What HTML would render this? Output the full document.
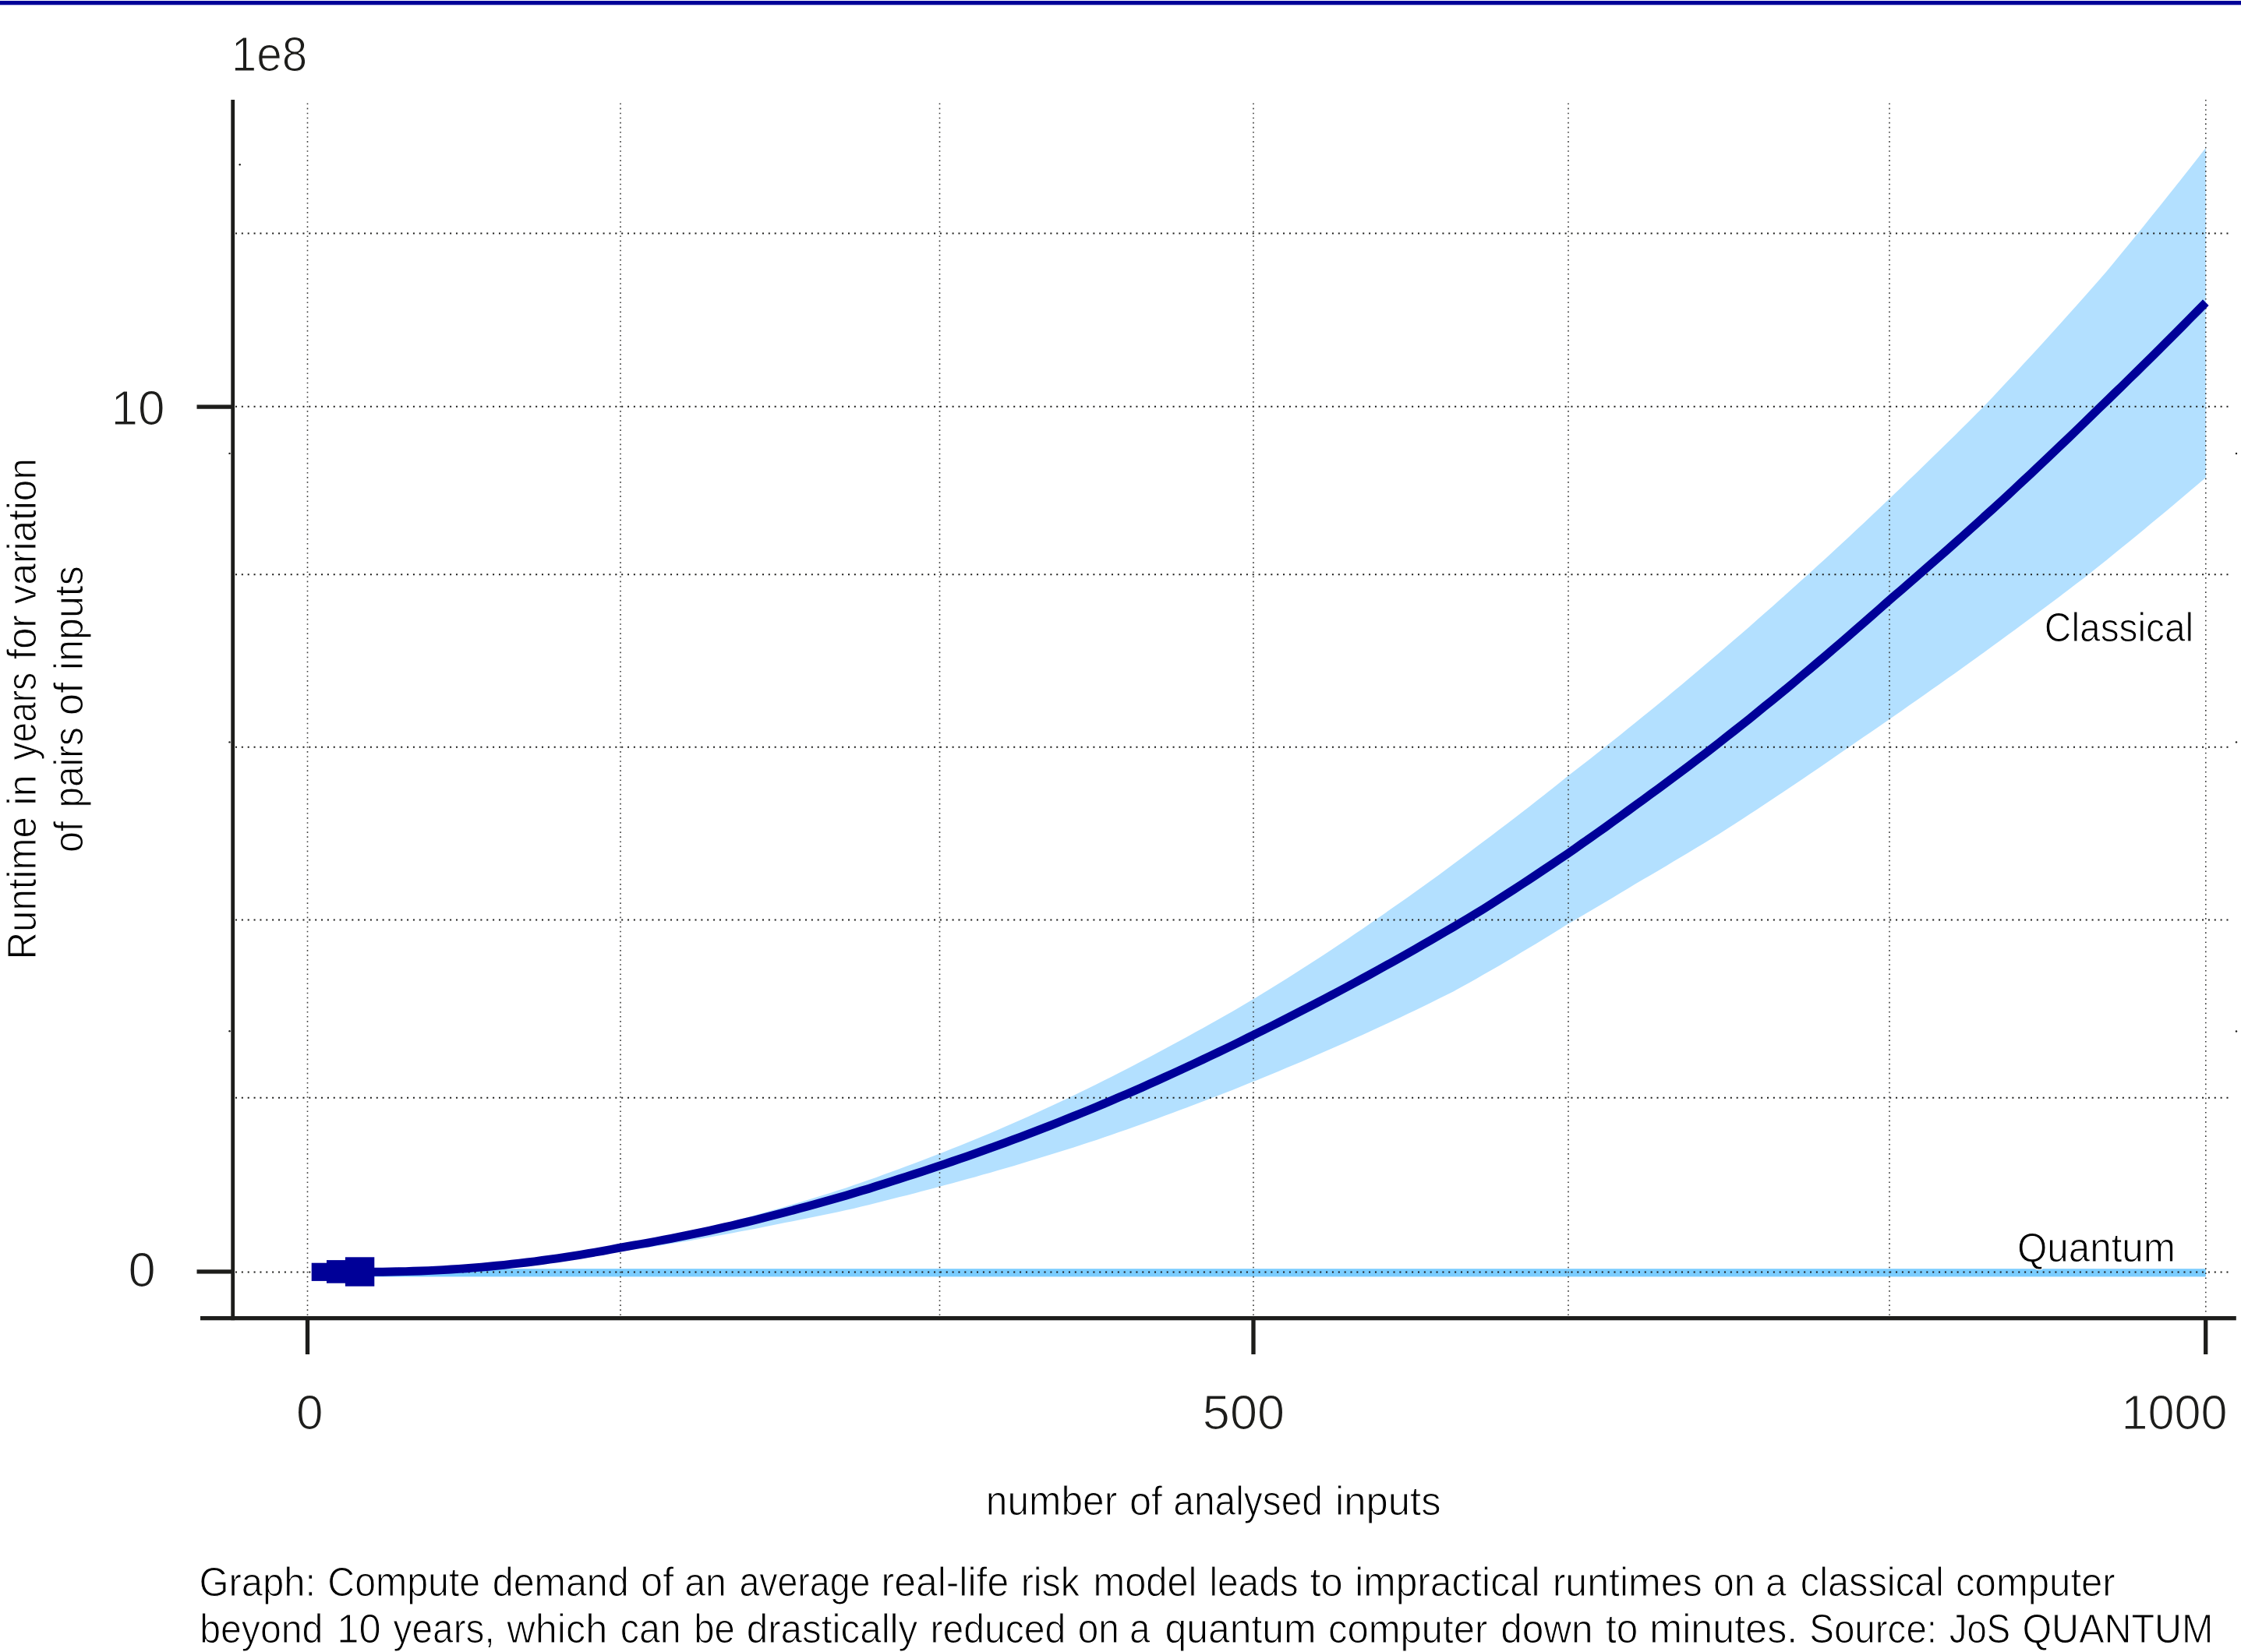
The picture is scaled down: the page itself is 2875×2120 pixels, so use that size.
<!DOCTYPE html>
<html><head><meta charset="utf-8"><title>chart</title>
<style>html,body{margin:0;padding:0;background:#fff;overflow:hidden}svg{display:block}text{font-family:"Liberation Sans",sans-serif}</style>
</head><body>
<svg width="2875" height="2120" viewBox="0 0 2875 2120">
<rect width="2875" height="2120" fill="#fff"/>
<rect x="0" y="1" width="2875" height="5.3" fill="#000098"/>
<path d="M461.7 1632.4 L471.5 1632.4 L481.2 1632.3 L490.9 1632.2 L500.7 1632.0 L510.4 1631.8 L520.2 1631.5 L529.9 1631.2 L539.6 1630.8 L549.4 1630.4 L559.1 1630.0 L568.9 1629.4 L578.6 1628.7 L588.3 1628.0 L598.1 1627.3 L607.8 1626.5 L617.6 1625.6 L627.3 1624.6 L637.1 1623.6 L646.8 1622.5 L656.5 1621.4 L666.3 1620.2 L676.0 1619.0 L685.8 1617.6 L695.5 1616.3 L705.2 1614.8 L715.0 1613.3 L724.7 1611.8 L734.5 1610.1 L744.2 1608.4 L754.0 1606.7 L763.7 1604.9 L773.4 1603.0 L783.2 1601.1 L792.9 1599.1 L802.7 1597.2 L812.4 1595.4 L822.1 1593.5 L831.9 1591.6 L841.6 1589.7 L851.4 1587.7 L861.1 1585.6 L870.8 1583.6 L880.6 1581.4 L890.3 1579.3 L900.1 1577.0 L909.8 1574.7 L919.6 1572.3 L929.3 1569.9 L939.0 1567.4 L948.8 1564.8 L958.5 1562.2 L968.3 1559.6 L978.0 1556.8 L987.7 1554.0 L997.5 1551.2 L1007.2 1548.4 L1017.0 1545.6 L1026.7 1542.7 L1036.4 1539.8 L1046.2 1536.8 L1055.9 1533.8 L1065.7 1530.7 L1075.4 1527.6 L1085.2 1524.4 L1094.9 1521.1 L1104.6 1517.7 L1114.4 1514.3 L1124.1 1510.9 L1133.9 1507.3 L1143.6 1503.8 L1153.3 1500.2 L1163.1 1496.6 L1172.8 1493.0 L1182.6 1489.3 L1192.3 1485.6 L1202.0 1481.8 L1211.8 1478.0 L1221.5 1474.1 L1231.3 1470.2 L1241.0 1466.3 L1250.8 1462.3 L1260.5 1458.2 L1270.2 1454.2 L1280.0 1450.0 L1289.7 1445.8 L1299.5 1441.6 L1309.2 1437.3 L1318.9 1432.9 L1328.7 1428.5 L1338.4 1424.1 L1348.2 1419.6 L1357.9 1415.0 L1367.6 1410.4 L1377.4 1405.7 L1387.1 1401.0 L1396.9 1396.2 L1406.6 1391.4 L1416.4 1386.6 L1426.1 1381.7 L1435.8 1376.8 L1445.6 1371.8 L1455.3 1366.7 L1465.1 1361.6 L1474.8 1356.5 L1484.5 1351.3 L1494.3 1346.0 L1504.0 1340.7 L1513.8 1335.5 L1523.5 1330.2 L1533.2 1324.8 L1543.0 1319.4 L1552.7 1314.0 L1562.5 1308.5 L1572.2 1303.0 L1582.0 1297.4 L1591.7 1291.7 L1601.4 1286.0 L1611.2 1280.2 L1620.9 1274.3 L1630.7 1268.3 L1640.4 1262.3 L1650.1 1256.2 L1659.9 1250.0 L1669.6 1243.8 L1679.4 1237.6 L1689.1 1231.2 L1698.8 1224.9 L1708.6 1218.4 L1718.3 1212.0 L1728.1 1205.4 L1737.8 1198.8 L1747.6 1192.2 L1757.3 1185.5 L1767.0 1178.7 L1776.8 1171.9 L1786.5 1165.1 L1796.3 1158.3 L1806.0 1151.4 L1815.7 1144.5 L1825.5 1137.5 L1835.2 1130.5 L1845.0 1123.4 L1854.7 1116.2 L1864.4 1109.0 L1874.2 1101.8 L1883.9 1094.5 L1893.7 1087.1 L1903.4 1079.8 L1913.2 1072.5 L1922.9 1065.1 L1932.6 1057.7 L1942.4 1050.2 L1952.1 1042.7 L1961.9 1035.2 L1971.6 1027.6 L1981.3 1019.9 L1991.1 1012.2 L2000.8 1004.4 L2010.6 996.6 L2020.3 989.1 L2030.0 981.5 L2039.8 973.9 L2049.5 966.2 L2059.3 958.5 L2069.0 950.8 L2078.8 943.0 L2088.5 935.1 L2098.2 927.3 L2108.0 919.3 L2117.7 911.4 L2127.5 903.4 L2137.2 895.4 L2146.9 887.3 L2156.7 879.2 L2166.4 871.0 L2176.2 862.8 L2185.9 854.5 L2195.6 846.2 L2205.4 837.9 L2215.1 829.5 L2224.9 821.1 L2234.6 812.7 L2244.4 804.2 L2254.1 795.6 L2263.8 787.0 L2273.6 778.4 L2283.3 769.8 L2293.1 761.0 L2302.8 752.3 L2312.5 743.5 L2322.3 734.7 L2332.0 725.8 L2341.8 716.9 L2351.5 707.9 L2361.2 698.9 L2371.0 689.9 L2380.7 680.8 L2390.5 671.7 L2400.2 662.5 L2410.0 653.3 L2419.7 644.1 L2429.4 634.8 L2439.2 625.5 L2448.9 616.1 L2458.7 606.7 L2468.4 597.3 L2478.1 587.8 L2487.9 578.3 L2497.6 568.7 L2507.4 559.2 L2517.1 549.5 L2526.8 539.9 L2536.6 530.1 L2546.3 520.3 L2556.1 510.0 L2565.8 499.6 L2575.6 489.1 L2585.3 478.7 L2595.0 468.1 L2604.8 457.5 L2614.5 446.9 L2624.3 436.2 L2634.0 425.5 L2643.7 414.7 L2653.5 403.8 L2663.2 392.9 L2673.0 382.0 L2682.7 371.0 L2692.4 360.0 L2702.2 348.8 L2711.9 337.0 L2721.7 325.1 L2731.4 313.2 L2741.2 301.2 L2750.9 289.2 L2760.6 277.1 L2770.4 265.0 L2780.1 252.8 L2789.9 240.6 L2799.6 228.3 L2809.3 215.9 L2819.1 203.5 L2828.8 191.0 L2829.8 189.7 L2829.8 612.9 L2828.8 613.7 L2819.1 622.0 L2809.3 630.3 L2799.6 638.5 L2789.9 646.7 L2780.1 654.9 L2770.4 663.0 L2760.6 671.1 L2750.9 679.2 L2741.2 687.2 L2731.4 695.2 L2721.7 703.1 L2711.9 711.1 L2702.2 718.9 L2692.4 726.8 L2682.7 734.6 L2673.0 742.2 L2663.2 749.6 L2653.5 757.0 L2643.7 764.4 L2634.0 771.7 L2624.3 779.0 L2614.5 786.3 L2604.8 793.5 L2595.0 800.8 L2585.3 807.9 L2575.6 815.1 L2565.8 822.2 L2556.1 829.3 L2546.3 836.4 L2536.6 843.4 L2526.8 850.4 L2517.1 857.4 L2507.4 864.4 L2497.6 871.3 L2487.9 878.2 L2478.1 885.0 L2468.4 891.9 L2458.7 898.7 L2448.9 905.6 L2439.2 912.4 L2429.4 919.2 L2419.7 926.0 L2410.0 932.7 L2400.2 939.4 L2390.5 946.1 L2380.7 952.8 L2371.0 959.4 L2361.2 966.2 L2351.5 973.0 L2341.8 979.7 L2332.0 986.4 L2322.3 993.1 L2312.5 999.7 L2302.8 1006.3 L2293.1 1012.8 L2283.3 1019.3 L2273.6 1025.8 L2263.8 1032.3 L2254.1 1038.7 L2244.4 1045.0 L2234.6 1051.4 L2224.9 1057.7 L2215.1 1063.9 L2205.4 1070.2 L2195.6 1076.3 L2185.9 1082.2 L2176.2 1088.1 L2166.4 1094.0 L2156.7 1099.8 L2146.9 1105.6 L2137.2 1111.4 L2127.5 1117.2 L2117.7 1122.9 L2108.0 1128.6 L2098.2 1134.2 L2088.5 1140.2 L2078.8 1146.1 L2069.0 1151.9 L2059.3 1157.8 L2049.5 1163.5 L2039.8 1169.3 L2030.0 1175.0 L2020.3 1180.7 L2010.6 1186.3 L2000.8 1192.4 L1991.1 1198.5 L1981.3 1204.5 L1971.6 1210.4 L1961.9 1216.3 L1952.1 1222.1 L1942.4 1227.9 L1932.6 1233.7 L1922.9 1239.4 L1913.2 1245.0 L1903.4 1250.6 L1893.7 1256.2 L1883.9 1261.7 L1874.2 1267.1 L1864.4 1272.4 L1854.7 1277.2 L1845.0 1282.1 L1835.2 1286.9 L1825.5 1291.7 L1815.7 1296.4 L1806.0 1301.1 L1796.3 1305.8 L1786.5 1310.3 L1776.8 1314.8 L1767.0 1319.3 L1757.3 1323.8 L1747.6 1328.2 L1737.8 1332.6 L1728.1 1336.9 L1718.3 1341.3 L1708.6 1345.6 L1698.8 1349.8 L1689.1 1354.0 L1679.4 1358.2 L1669.6 1362.4 L1659.9 1366.5 L1650.1 1370.6 L1640.4 1374.7 L1630.7 1378.7 L1620.9 1382.7 L1611.2 1386.7 L1601.4 1390.6 L1591.7 1394.5 L1582.0 1398.4 L1572.2 1402.2 L1562.5 1406.1 L1552.7 1409.8 L1543.0 1413.6 L1533.2 1417.3 L1523.5 1421.0 L1513.8 1424.6 L1504.0 1428.2 L1494.3 1431.8 L1484.5 1435.4 L1474.8 1439.0 L1465.1 1442.5 L1455.3 1446.0 L1445.6 1449.4 L1435.8 1452.8 L1426.1 1456.2 L1416.4 1459.6 L1406.6 1462.9 L1396.9 1466.1 L1387.1 1469.3 L1377.4 1472.4 L1367.6 1475.5 L1357.9 1478.6 L1348.2 1481.6 L1338.4 1484.6 L1328.7 1487.6 L1318.9 1490.5 L1309.2 1493.5 L1299.5 1496.4 L1289.7 1499.2 L1280.0 1502.0 L1270.2 1504.9 L1260.5 1507.6 L1250.8 1510.4 L1241.0 1513.1 L1231.3 1515.8 L1221.5 1518.4 L1211.8 1521.1 L1202.0 1523.7 L1192.3 1526.3 L1182.6 1528.8 L1172.8 1531.4 L1163.1 1533.9 L1153.3 1536.3 L1143.6 1538.8 L1133.9 1541.3 L1124.1 1543.8 L1114.4 1546.2 L1104.6 1548.6 L1094.9 1550.9 L1085.2 1553.1 L1075.4 1555.2 L1065.7 1557.3 L1055.9 1559.3 L1046.2 1561.3 L1036.4 1563.3 L1026.7 1565.2 L1017.0 1567.2 L1007.2 1569.1 L997.5 1571.0 L987.7 1573.0 L978.0 1575.0 L968.3 1576.9 L958.5 1578.8 L948.8 1580.6 L939.0 1582.5 L929.3 1584.3 L919.6 1586.0 L909.8 1587.8 L900.1 1589.5 L890.3 1591.2 L880.6 1592.9 L870.8 1594.5 L861.1 1596.1 L851.4 1597.7 L841.6 1599.3 L831.9 1600.8 L822.1 1602.2 L812.4 1603.6 L802.7 1605.0 L792.9 1606.5 L783.2 1608.1 L773.4 1609.5 L763.7 1611.0 L754.0 1612.4 L744.2 1613.8 L734.5 1615.1 L724.7 1616.3 L715.0 1617.5 L705.2 1618.7 L695.5 1619.8 L685.8 1620.9 L676.0 1621.9 L666.3 1622.9 L656.5 1623.8 L646.8 1624.7 L637.1 1625.5 L627.3 1626.3 L617.6 1627.1 L607.8 1627.8 L598.1 1628.4 L588.3 1629.0 L578.6 1629.5 L568.9 1630.0 L559.1 1630.5 L549.4 1630.9 L539.6 1631.2 L529.9 1631.5 L520.2 1631.7 L510.4 1631.9 L500.7 1632.1 L490.9 1632.2 L481.2 1632.3 L471.5 1632.4 L461.7 1632.4Z" fill="#b3e0ff"/>
<rect x="405" y="1628.2" width="2424.8" height="10.2" fill="#7bcdff"/>
<line x1="302" y1="299.5" x2="2862" y2="299.5" stroke="#1d1d1b" stroke-width="2" stroke-dasharray="2 5.86"/>
<line x1="302" y1="521.8" x2="2862" y2="521.8" stroke="#1d1d1b" stroke-width="2" stroke-dasharray="2 5.86"/>
<line x1="302" y1="737.2" x2="2862" y2="737.2" stroke="#1d1d1b" stroke-width="2" stroke-dasharray="2 5.86"/>
<line x1="302" y1="958.7" x2="2862" y2="958.7" stroke="#1d1d1b" stroke-width="2" stroke-dasharray="2 5.86"/>
<line x1="302" y1="1180.4" x2="2862" y2="1180.4" stroke="#1d1d1b" stroke-width="2" stroke-dasharray="2 5.86"/>
<line x1="302" y1="1408.8" x2="2862" y2="1408.8" stroke="#1d1d1b" stroke-width="2" stroke-dasharray="2 5.86"/>
<line x1="302" y1="1632.4" x2="2862" y2="1632.4" stroke="#1d1d1b" stroke-width="2" stroke-dasharray="2 5.86"/>
<line x1="394.5" y1="132.5" x2="394.5" y2="1688" stroke="#3a3a39" stroke-width="1.6" stroke-dasharray="1.6 4.47"/>
<line x1="796.0" y1="132.5" x2="796.0" y2="1688" stroke="#3a3a39" stroke-width="1.6" stroke-dasharray="1.6 4.47"/>
<line x1="1205.5" y1="132.5" x2="1205.5" y2="1688" stroke="#3a3a39" stroke-width="1.6" stroke-dasharray="1.6 4.47"/>
<line x1="1608.0" y1="132.5" x2="1608.0" y2="1688" stroke="#3a3a39" stroke-width="1.6" stroke-dasharray="1.6 4.47"/>
<line x1="2012.0" y1="132.5" x2="2012.0" y2="1688" stroke="#3a3a39" stroke-width="1.6" stroke-dasharray="1.6 4.47"/>
<line x1="2424.0" y1="132.5" x2="2424.0" y2="1688" stroke="#3a3a39" stroke-width="1.6" stroke-dasharray="1.6 4.47"/>
<line x1="2829.8" y1="128" x2="2829.8" y2="1688" stroke="#3a3a39" stroke-width="1.6" stroke-dasharray="1.6 4.47"/>
<path d="M461.7 1632.4 L471.5 1632.4 L481.2 1632.3 L490.9 1632.2 L500.7 1632.0 L510.4 1631.8 L520.2 1631.6 L529.9 1631.3 L539.6 1631.0 L549.4 1630.6 L559.1 1630.1 L568.9 1629.6 L578.6 1629.0 L588.3 1628.4 L598.1 1627.7 L607.8 1626.9 L617.6 1626.1 L627.3 1625.2 L637.1 1624.3 L646.8 1623.3 L656.5 1622.2 L666.3 1621.1 L676.0 1620.0 L685.8 1618.8 L695.5 1617.5 L705.2 1616.2 L715.0 1614.8 L724.7 1613.3 L734.5 1611.8 L744.2 1610.3 L754.0 1608.7 L763.7 1607.0 L773.4 1605.3 L783.2 1603.5 L792.9 1601.7 L802.7 1599.9 L812.4 1598.2 L822.1 1596.5 L831.9 1594.8 L841.6 1593.0 L851.4 1591.2 L861.1 1589.3 L870.8 1587.4 L880.6 1585.4 L890.3 1583.4 L900.1 1581.4 L909.8 1579.3 L919.6 1577.1 L929.3 1574.9 L939.0 1572.7 L948.8 1570.4 L958.5 1568.1 L968.3 1565.7 L978.0 1563.2 L987.7 1560.8 L997.5 1558.2 L1007.2 1555.7 L1017.0 1553.2 L1026.7 1550.6 L1036.4 1548.0 L1046.2 1545.3 L1055.9 1542.6 L1065.7 1539.8 L1075.4 1537.0 L1085.2 1534.2 L1094.9 1531.3 L1104.6 1528.3 L1114.4 1525.4 L1124.1 1522.3 L1133.9 1519.3 L1143.6 1516.1 L1153.3 1513.0 L1163.1 1509.9 L1172.8 1506.8 L1182.6 1503.6 L1192.3 1500.4 L1202.0 1497.1 L1211.8 1493.8 L1221.5 1490.5 L1231.3 1487.2 L1241.0 1483.8 L1250.8 1480.4 L1260.5 1476.9 L1270.2 1473.4 L1280.0 1469.9 L1289.7 1466.3 L1299.5 1462.7 L1309.2 1459.1 L1318.9 1455.4 L1328.7 1451.6 L1338.4 1447.9 L1348.2 1444.1 L1357.9 1440.2 L1367.6 1436.3 L1377.4 1432.4 L1387.1 1428.5 L1396.9 1424.5 L1406.6 1420.4 L1416.4 1416.4 L1426.1 1412.2 L1435.8 1408.1 L1445.6 1403.9 L1455.3 1399.7 L1465.1 1395.4 L1474.8 1391.1 L1484.5 1386.7 L1494.3 1382.3 L1504.0 1377.9 L1513.8 1373.4 L1523.5 1368.9 L1533.2 1364.4 L1543.0 1359.8 L1552.7 1355.2 L1562.5 1350.5 L1572.2 1345.8 L1582.0 1341.1 L1591.7 1336.3 L1601.4 1331.5 L1611.2 1326.7 L1620.9 1321.9 L1630.7 1317.0 L1640.4 1312.1 L1650.1 1307.2 L1659.9 1302.2 L1669.6 1297.2 L1679.4 1292.2 L1689.1 1287.1 L1698.8 1282.0 L1708.6 1276.9 L1718.3 1271.7 L1728.1 1266.5 L1737.8 1261.2 L1747.6 1255.9 L1757.3 1250.6 L1767.0 1245.2 L1776.8 1239.8 L1786.5 1234.4 L1796.3 1228.9 L1806.0 1223.4 L1815.7 1217.9 L1825.5 1212.3 L1835.2 1206.7 L1845.0 1201.1 L1854.7 1195.4 L1864.4 1189.7 L1874.2 1183.9 L1883.9 1178.1 L1893.7 1172.3 L1903.4 1166.3 L1913.2 1160.1 L1922.9 1153.9 L1932.6 1147.6 L1942.4 1141.3 L1952.1 1135.0 L1961.9 1128.6 L1971.6 1122.1 L1981.3 1115.6 L1991.1 1109.1 L2000.8 1102.5 L2010.6 1095.9 L2020.3 1089.2 L2030.0 1082.3 L2039.8 1075.5 L2049.5 1068.6 L2059.3 1061.7 L2069.0 1054.7 L2078.8 1047.6 L2088.5 1040.5 L2098.2 1033.4 L2108.0 1026.3 L2117.7 1019.2 L2127.5 1012.1 L2137.2 1004.9 L2146.9 997.7 L2156.7 990.4 L2166.4 983.1 L2176.2 975.7 L2185.9 968.3 L2195.6 960.9 L2205.4 953.3 L2215.1 945.6 L2224.9 937.9 L2234.6 930.2 L2244.4 922.4 L2254.1 914.5 L2263.8 906.6 L2273.6 898.7 L2283.3 890.7 L2293.1 882.7 L2302.8 874.6 L2312.5 866.4 L2322.3 858.3 L2332.0 850.0 L2341.8 841.8 L2351.5 833.4 L2361.2 825.1 L2371.0 816.7 L2380.7 808.2 L2390.5 799.7 L2400.2 791.1 L2410.0 782.5 L2419.7 773.9 L2429.4 765.4 L2439.2 757.1 L2448.9 748.7 L2458.7 740.2 L2468.4 731.7 L2478.1 723.2 L2487.9 714.7 L2497.6 706.1 L2507.4 697.4 L2517.1 688.7 L2526.8 680.0 L2536.6 671.2 L2546.3 662.4 L2556.1 653.6 L2565.8 644.7 L2575.6 635.7 L2585.3 626.6 L2595.0 617.5 L2604.8 608.4 L2614.5 599.3 L2624.3 590.0 L2634.0 580.8 L2643.7 571.5 L2653.5 562.2 L2663.2 552.8 L2673.0 543.4 L2682.7 533.9 L2692.4 524.4 L2702.2 515.0 L2711.9 505.5 L2721.7 496.1 L2731.4 486.5 L2741.2 477.0 L2750.9 467.4 L2760.6 457.8 L2770.4 448.1 L2780.1 438.4 L2789.9 428.6 L2799.6 418.8 L2809.3 409.0 L2819.1 399.1 L2828.8 389.2 L2829.8 388.2" fill="none" stroke="#000098" stroke-width="10.9" stroke-linejoin="round"/>
<rect x="399.7" y="1620.7" width="23.2" height="23.2" fill="#000098"/>
<rect x="419.0" y="1617.1" width="29.6" height="29.6" fill="#000098"/>
<rect x="442.9" y="1613.3" width="37.4" height="37.4" fill="#000098"/>
<rect x="296.3" y="128" width="4.8" height="1566.2" fill="#1d1d1b"/>
<rect x="257" y="1689" width="2611.8" height="5.3" fill="#1d1d1b"/>
<rect x="252.5" y="519.45" width="45" height="5.3" fill="#1d1d1b"/>
<rect x="252.5" y="1629.25" width="45" height="5.3" fill="#1d1d1b"/>
<rect x="391.85" y="1692" width="5.3" height="46" fill="#1d1d1b"/>
<rect x="1605.35" y="1692" width="5.3" height="46" fill="#1d1d1b"/>
<rect x="2827.05" y="1692" width="5.3" height="46" fill="#1d1d1b"/>
<circle cx="307.7" cy="211.2" r="1.2" fill="#1d1d1b"/>
<circle cx="294.5" cy="581.9" r="1.2" fill="#1d1d1b"/>
<circle cx="294.5" cy="952.4" r="1.2" fill="#1d1d1b"/>
<circle cx="294.5" cy="1323.2" r="1.2" fill="#1d1d1b"/>
<circle cx="2869" cy="582" r="1.2" fill="#1d1d1b"/>
<circle cx="2869" cy="952.4" r="1.2" fill="#1d1d1b"/>
<circle cx="2869" cy="1323.5" r="1.2" fill="#1d1d1b"/>
<text transform="translate(296.80 91.00) scale(0.9204 1)" font-size="63.5" fill="#1d1d1b" stroke="#fff" stroke-width="1.2">1e8</text>
<text transform="translate(142.41 544.60) scale(0.9778 1)" font-size="63.5" fill="#1d1d1b" stroke="#fff" stroke-width="1.2">10</text>
<text transform="translate(164.41 1651.40) scale(0.9967 1)" font-size="63.5" fill="#1d1d1b" stroke="#fff" stroke-width="1.2">0</text>
<text transform="translate(379.95 1834.40) scale(0.9803 1)" font-size="63.5" fill="#1d1d1b" stroke="#fff" stroke-width="1.2">0</text>
<text transform="translate(1542.82 1834.00) scale(0.9931 1)" font-size="63.5" fill="#1d1d1b" stroke="#fff" stroke-width="1.2">500</text>
<text transform="translate(2721.38 1833.90) scale(0.9634 1)" font-size="63.5" fill="#1d1d1b" stroke="#fff" stroke-width="1.2">1000</text>
<text transform="translate(2622.86 823.10) scale(0.9379 1)" font-size="51" fill="#000" stroke="#fff" stroke-width="1.0">Classical</text>
<text transform="translate(2587.88 1618.50) scale(0.9681 1)" font-size="51" fill="#000" stroke="#fff" stroke-width="1.0">Quantum</text>
<text transform="translate(1264.79 1944.20) scale(0.9739 1)" font-size="51" fill="#000" stroke="#fff" stroke-width="1.0">number</text>
<text transform="translate(1448.92 1944.20) scale(0.9901 1)" font-size="51" fill="#000" stroke="#fff" stroke-width="1.0">of</text>
<text transform="translate(1505.32 1944.20) scale(0.9387 1)" font-size="51" fill="#000" stroke="#fff" stroke-width="1.0">analysed</text>
<text transform="translate(1713.01 1944.20) scale(0.9962 1)" font-size="51" fill="#000" stroke="#fff" stroke-width="1.0">inputs</text>
<text transform="translate(45.80 1231.56) rotate(-90) scale(0.9657 1)" font-size="51" fill="#000" stroke="#fff" stroke-width="1.0">Runtime</text>
<text transform="translate(45.80 1033.56) rotate(-90) scale(0.9879 1)" font-size="51" fill="#000" stroke="#fff" stroke-width="1.0">in</text>
<text transform="translate(45.80 975.50) rotate(-90) scale(0.9033 1)" font-size="51" fill="#000" stroke="#fff" stroke-width="1.0">years</text>
<text transform="translate(45.80 846.38) rotate(-90) scale(0.9586 1)" font-size="51" fill="#000" stroke="#fff" stroke-width="1.0">for</text>
<text transform="translate(45.80 775.19) rotate(-90) scale(0.9709 1)" font-size="51" fill="#000" stroke="#fff" stroke-width="1.0">variation</text>
<text transform="translate(105.70 1094.10) rotate(-90) scale(0.9506 1)" font-size="51" fill="#000" stroke="#fff" stroke-width="1.0">of</text>
<text transform="translate(105.70 1036.58) rotate(-90) scale(0.9371 1)" font-size="51" fill="#000" stroke="#fff" stroke-width="1.0">pairs</text>
<text transform="translate(105.70 917.89) rotate(-90) scale(0.9926 1)" font-size="51" fill="#000" stroke="#fff" stroke-width="1.0">of</text>
<text transform="translate(105.70 859.94) rotate(-90) scale(0.9831 1)" font-size="51" fill="#000" stroke="#fff" stroke-width="1.0">inputs</text>
<text transform="translate(255.40 2048.30) scale(0.9611 1)" font-size="51" fill="#000" stroke="#fff" stroke-width="1.0">Graph:</text>
<text transform="translate(420.33 2048.30) scale(0.9465 1)" font-size="51" fill="#000" stroke="#fff" stroke-width="1.0">Compute</text>
<text transform="translate(631.70 2048.30) scale(0.9497 1)" font-size="51" fill="#000" stroke="#fff" stroke-width="1.0">demand</text>
<text transform="translate(822.11 2048.30) scale(0.9926 1)" font-size="51" fill="#000" stroke="#fff" stroke-width="1.0">of</text>
<text transform="translate(878.21 2048.30) scale(0.9456 1)" font-size="51" fill="#000" stroke="#fff" stroke-width="1.0">an</text>
<text transform="translate(948.38 2048.30) scale(0.9122 1)" font-size="51" fill="#000" stroke="#fff" stroke-width="1.0">average</text>
<text transform="translate(1130.58 2048.30) scale(0.9783 1)" font-size="51" fill="#000" stroke="#fff" stroke-width="1.0">real-life</text>
<text transform="translate(1309.67 2048.30) scale(0.9513 1)" font-size="51" fill="#000" stroke="#fff" stroke-width="1.0">risk</text>
<text transform="translate(1402.55 2048.30) scale(0.9568 1)" font-size="51" fill="#000" stroke="#fff" stroke-width="1.0">model</text>
<text transform="translate(1551.42 2048.30) scale(0.9365 1)" font-size="51" fill="#000" stroke="#fff" stroke-width="1.0">leads</text>
<text transform="translate(1680.41 2048.30) scale(0.9949 1)" font-size="51" fill="#000" stroke="#fff" stroke-width="1.0">to</text>
<text transform="translate(1738.29 2048.30) scale(0.9743 1)" font-size="51" fill="#000" stroke="#fff" stroke-width="1.0">impractical</text>
<text transform="translate(1991.66 2048.30) scale(0.9826 1)" font-size="51" fill="#000" stroke="#fff" stroke-width="1.0">runtimes</text>
<text transform="translate(2198.01 2048.30) scale(0.9443 1)" font-size="51" fill="#000" stroke="#fff" stroke-width="1.0">on a</text>
<text transform="translate(2309.79 2048.30) scale(0.9557 1)" font-size="51" fill="#000" stroke="#fff" stroke-width="1.0">classical</text>
<text transform="translate(2509.07 2048.30) scale(0.9629 1)" font-size="51" fill="#000" stroke="#fff" stroke-width="1.0">computer</text>
<text transform="translate(256.19 2108.00) scale(0.9458 1)" font-size="51" fill="#000" stroke="#fff" stroke-width="1.0">beyond</text>
<text transform="translate(432.22 2108.00) scale(0.9941 1)" font-size="51" fill="#000" stroke="#fff" stroke-width="1.0">10</text>
<text transform="translate(504.60 2108.00) scale(0.9375 1)" font-size="51" fill="#000" stroke="#fff" stroke-width="1.0">years,</text>
<text transform="translate(650.30 2108.00) scale(0.9890 1)" font-size="51" fill="#000" stroke="#fff" stroke-width="1.0">which</text>
<text transform="translate(795.70 2108.00) scale(0.9494 1)" font-size="51" fill="#000" stroke="#fff" stroke-width="1.0">can</text>
<text transform="translate(890.16 2108.00) scale(0.9255 1)" font-size="51" fill="#000" stroke="#fff" stroke-width="1.0">be</text>
<text transform="translate(957.66 2108.00) scale(0.9688 1)" font-size="51" fill="#000" stroke="#fff" stroke-width="1.0">drastically</text>
<text transform="translate(1193.40 2108.00) scale(0.9431 1)" font-size="51" fill="#000" stroke="#fff" stroke-width="1.0">reduced</text>
<text transform="translate(1382.63 2108.00) scale(0.9361 1)" font-size="51" fill="#000" stroke="#fff" stroke-width="1.0">on a</text>
<text transform="translate(1494.54 2108.00) scale(0.9782 1)" font-size="51" fill="#000" stroke="#fff" stroke-width="1.0">quantum</text>
<text transform="translate(1703.88 2108.00) scale(0.9614 1)" font-size="51" fill="#000" stroke="#fff" stroke-width="1.0">computer</text>
<text transform="translate(1925.15 2108.00) scale(0.9725 1)" font-size="51" fill="#000" stroke="#fff" stroke-width="1.0">down</text>
<text transform="translate(2059.93 2108.00) scale(0.9722 1)" font-size="51" fill="#000" stroke="#fff" stroke-width="1.0">to</text>
<text transform="translate(2116.35 2108.00) scale(0.9854 1)" font-size="51" fill="#000" stroke="#fff" stroke-width="1.0">minutes.</text>
<text transform="translate(2321.17 2108.00) scale(0.9329 1)" font-size="51" fill="#000" stroke="#fff" stroke-width="1.0">Source:</text>
<text transform="translate(2500.81 2108.00) scale(0.8923 1)" font-size="51" fill="#000" stroke="#fff" stroke-width="1.0">JoS</text>
<text transform="translate(2594.42 2108.00) scale(0.9506 1)" font-size="51" fill="#000" stroke="#fff" stroke-width="1.0">QUANTUM</text>
</svg></body></html>
